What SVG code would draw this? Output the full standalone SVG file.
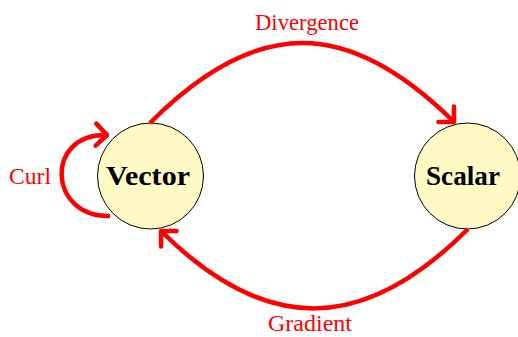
<svg xmlns="http://www.w3.org/2000/svg" width="518" height="337" viewBox="0 0 518 337">
<style>
.node{fill:#fff9c4;stroke:#000;stroke-width:1}
.nlabel{font-family:"Liberation Serif","DejaVu Serif",serif;font-weight:bold;font-size:28px;fill:#000;text-anchor:middle}
.elabel{font-family:"Liberation Serif","DejaVu Serif",serif;font-size:22.5px;fill:#ff0000;text-anchor:middle}
.edge{fill:none;stroke:#ff0000;stroke-width:4.5;marker-end:url(#arr)}
</style>
<defs>
<marker id="arr" markerUnits="userSpaceOnUse" viewBox="-16 -16 32 32" markerWidth="32" markerHeight="32" refX="0" refY="0" orient="auto" overflow="visible">
<path d="M-11,-11 Q-3,-3 0,0 Q-3,3 -11,11" fill="none" stroke="#ff0000" stroke-width="4.5" stroke-linecap="round" stroke-linejoin="round"/>
</marker>
</defs>
<g id="vector">
<circle class="node" cx="150.5" cy="176" r="53"/>
<text class="nlabel" x="148" y="185" textLength="84" lengthAdjust="spacingAndGlyphs">Vector</text>
</g>
<g id="scalar">
<circle class="node" cx="467.5" cy="176" r="53"/>
<text class="nlabel" x="463" y="185" textLength="74" lengthAdjust="spacingAndGlyphs">Scalar</text>
</g>
<g id="connectors">
<path class="edge" d="M150,123 C257,16 348,17 454,122"/>
<path class="edge" d="M468,229 C363,334 266,335 161,231"/>
<path class="edge" d="M110,216 C48,218 44,133 107,135"/>
</g>
<g id="labels">
<text class="elabel" x="307" y="30" textLength="104" lengthAdjust="spacingAndGlyphs">Divergence</text>
<text class="elabel" x="310" y="331" textLength="84" lengthAdjust="spacingAndGlyphs">Gradient</text>
<text class="elabel" x="30" y="184" textLength="42" lengthAdjust="spacingAndGlyphs">Curl</text>
</g>
</svg>
